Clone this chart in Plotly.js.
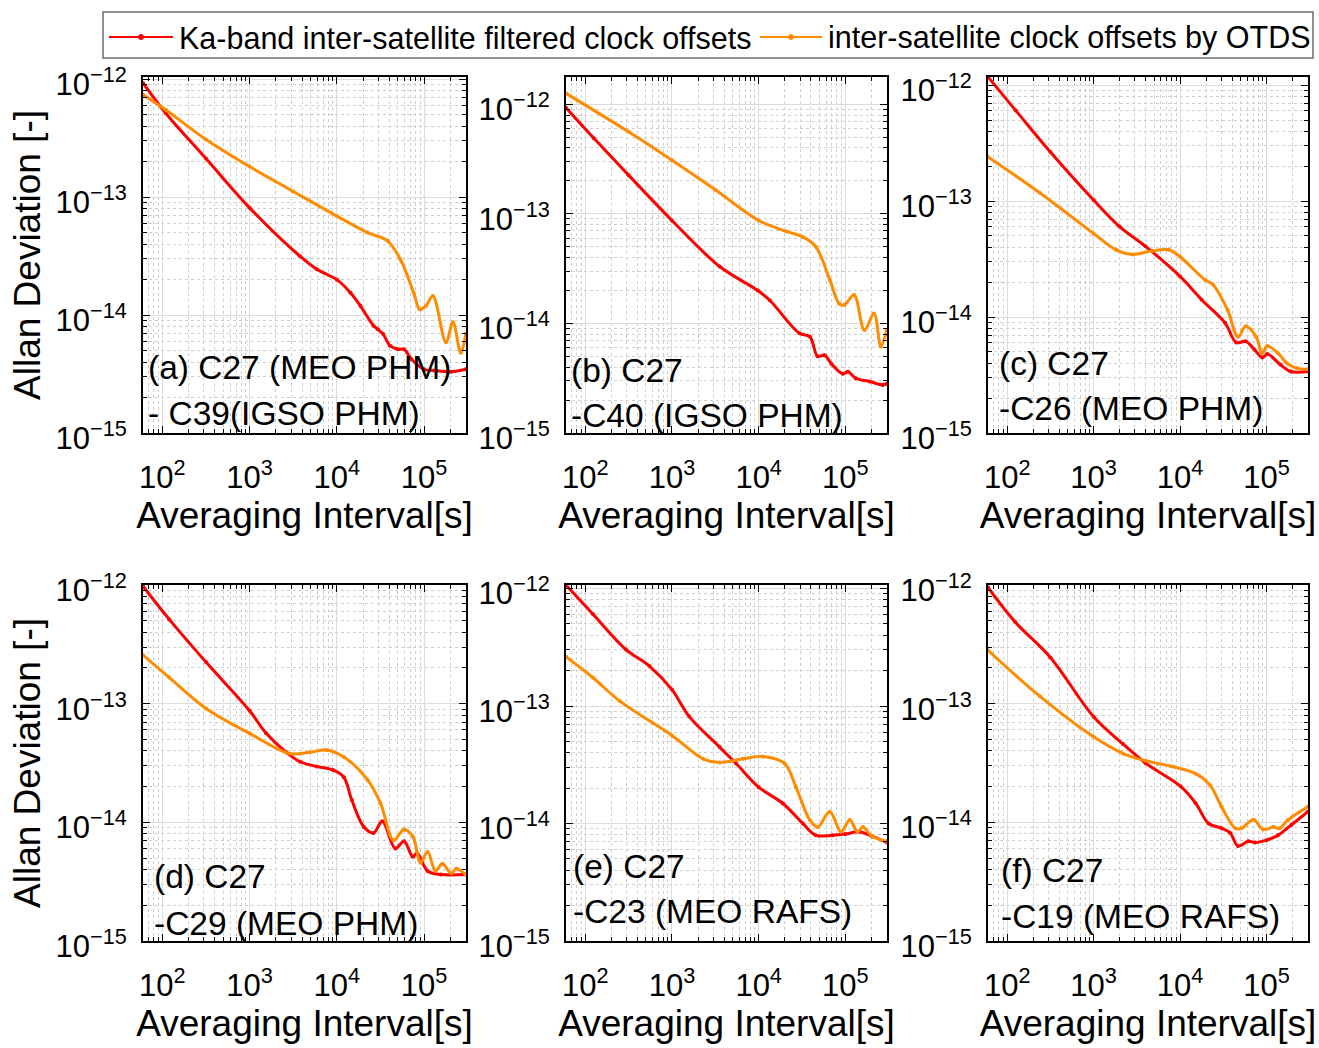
<!DOCTYPE html>
<html>
<head>
<meta charset="utf-8">
<script src="https://cdn.plot.ly/plotly-3.0.1.min.js"></script>
<style>
  html, body { margin: 0; padding: 0; background: #ffffff; }
  #chart { width: 1319px; height: 1048px; }
</style>
</head>
<body>
<div id="chart"></div>
<script>
// ---------------- DATA ----------------
const seriesNames = ["Ka-band inter-satellite filtered clock offsets", "inter-satellite clock offsets by OTDS"];
const panelLabels1 = ["(a) C27 (MEO PHM)", "(b) C27", "(c) C27", "(d) C27", "(e) C27", "(f) C27"];
const panelLabels2 = ["- C39(IGSO PHM)", "-C40 (IGSO PHM)", "-C26 (MEO PHM)", "-C29 (MEO PHM)", "-C23 (MEO RAFS)", "-C19 (MEO RAFS)"];
const xTickVals = [1e2, 1e3, 1e4, 1e5];
const xTickText = ["10<sup>2</sup>", "10<sup>3</sup>", "10<sup>4</sup>", "10<sup>5</sup>"];
const yTickVals = [1e-15, 1e-14, 1e-13, 1e-12];
const yTickText = ["10<sup>−15</sup>", "10<sup>−14</sup>", "10<sup>−13</sup>", "10<sup>−12</sup>"];

// (a) C27 - C39
const tauA_ka   = [60, 110, 316, 1000, 3776, 5890, 10000, 14300, 18600, 26300, 29500, 33900, 40700, 50100, 58900, 70800, 100000, 129000, 204000, 300000];
const adevA_ka  = [9.33e-13, 5.13e-13, 2.13e-13, 8.13e-14, 3.16e-14, 2.45e-14, 2.0e-14, 1.55e-14, 1.2e-14, 8.13e-15, 7.59e-15, 6.9e-15, 5.5e-15, 5.13e-15, 5.13e-15, 4.27e-15, 3.47e-15, 3.39e-15, 3.31e-15, 3.47e-15];
const tauA_ot   = [60, 110, 316, 1000, 3162, 10000, 22400, 38000, 53700, 75900, 89100, 105000, 126000, 178000, 214000, 263000, 300000];
const adevA_ot  = [7.41e-13, 5.5e-13, 3.09e-13, 1.82e-13, 1.12e-13, 6.92e-14, 5.01e-14, 4.27e-14, 2.95e-14, 1.55e-14, 1.12e-14, 1.2e-14, 1.45e-14, 5.89e-15, 8.71e-15, 4.79e-15, 6.92e-15];

// (b) C27 - C40
const tauB_ka   = [60, 126, 316, 1000, 3548, 9772, 13490, 29510, 38900, 47860, 57540, 69180, 93300, 107200, 131800, 190500, 269200, 300000];
const adevB_ka  = [9.33e-13, 4.9e-13, 2.26e-13, 8.71e-14, 3.31e-14, 2.0e-14, 1.62e-14, 8.13e-15, 7.59e-15, 5.01e-15, 5.13e-15, 4.27e-15, 3.47e-15, 3.63e-15, 3.16e-15, 2.95e-15, 2.75e-15, 2.82e-15];
const tauB_ot   = [60, 316, 1000, 3162, 10000, 20900, 32360, 45700, 66070, 85100, 97700, 125900, 166000, 213800, 257000, 300000];
const adevB_ot  = [1.26e-12, 5.62e-13, 3.09e-13, 1.66e-13, 8.71e-14, 6.92e-14, 6.17e-14, 5.01e-14, 2.51e-14, 1.51e-14, 1.48e-14, 1.82e-14, 8.71e-15, 1.23e-14, 6.17e-15, 8.71e-15];

// (c) C27 - C26
const tauC_ka   = [60, 126, 316, 1000, 1995, 3981, 10000, 17780, 33110, 44670, 57540, 72440, 89130, 102300, 144500, 190500, 300000];
const adevC_ka  = [1.175e-12, 6.03e-13, 2.65e-13, 1.02e-13, 6.03e-14, 4.07e-14, 2.24e-14, 1.41e-14, 8.91e-15, 6.03e-15, 6.17e-15, 5.25e-15, 4.47e-15, 4.79e-15, 3.89e-15, 3.39e-15, 3.39e-15];
const tauC_ot   = [60, 240, 1000, 1820, 2818, 4786, 7413, 10000, 19500, 23990, 35480, 46770, 57540, 75860, 89130, 102300, 134900, 173800, 223900, 300000];
const adevC_ot  = [2.4e-13, 1.175e-13, 5.25e-14, 3.8e-14, 3.47e-14, 3.72e-14, 3.8e-14, 3.31e-14, 2.09e-14, 1.91e-14, 1.15e-14, 6.76e-15, 8.32e-15, 6.76e-15, 4.9e-15, 5.62e-15, 4.9e-15, 3.98e-15, 3.63e-15, 3.55e-15];

// (d) C27 - C29
const tauD_ka   = [60, 120, 316, 1000, 1549, 2630, 3802, 5888, 9120, 12020, 14790, 20420, 26300, 33110, 46770, 58880, 74130, 83180, 109600, 154900, 300000];
const adevD_ka  = [9.77e-13, 5.13e-13, 2.24e-13, 8.71e-14, 5.62e-14, 3.89e-14, 3.24e-14, 2.95e-14, 2.75e-14, 2.4e-14, 1.55e-14, 9.12e-15, 8.13e-15, 1.02e-14, 6.03e-15, 6.92e-15, 5.13e-15, 5.5e-15, 3.89e-15, 3.63e-15, 3.63e-15];
const tauD_ot   = [60, 120, 316, 1000, 2884, 4898, 7586, 12020, 22390, 31620, 44670, 58880, 74130, 91200, 109600, 134900, 162200, 204200, 234400, 300000];
const adevD_ot  = [2.57e-13, 1.66e-13, 9.12e-14, 5.62e-14, 3.8e-14, 3.89e-14, 4.07e-14, 3.55e-14, 2.29e-14, 1.45e-14, 7.08e-15, 8.71e-15, 7.59e-15, 4.57e-15, 5.62e-15, 3.89e-15, 4.47e-15, 3.72e-15, 4.07e-15, 3.63e-15];

// (e) C27 - C23
const tauE_ka   = [60, 123, 295, 550, 1000, 1585, 3548, 5495, 10000, 19050, 32360, 45710, 70790, 100000, 144500, 204200, 300000];
const adevE_ka  = [1.07e-12, 6.03e-13, 3.02e-13, 2.19e-13, 1.38e-13, 8.13e-14, 4.47e-14, 3.24e-14, 2.04e-14, 1.48e-14, 1.0e-14, 7.94e-15, 7.94e-15, 8.13e-15, 8.51e-15, 7.76e-15, 6.92e-15];
const tauE_ot   = [60, 123, 251, 1000, 2291, 3548, 6607, 11220, 19950, 26920, 38900, 47860, 66070, 89130, 112200, 138000, 158500, 204200, 300000];
const adevE_ot  = [2.63e-13, 1.74e-13, 1.1e-13, 5.62e-14, 3.55e-14, 3.31e-14, 3.55e-14, 3.72e-14, 3.24e-14, 2.04e-14, 1.07e-14, 9.33e-15, 1.26e-14, 8.51e-15, 1.07e-14, 8.51e-15, 9.33e-15, 7.76e-15, 7.08e-15];

// (f) C27 - C19
const tauF_ka   = [60, 123, 316, 1000, 2188, 3981, 10230, 15140, 21380, 30200, 38020, 46770, 61660, 74130, 100000, 134900, 195000, 300000];
const adevF_ka  = [9.55e-13, 4.9e-13, 2.45e-13, 7.76e-14, 4.57e-14, 3.16e-14, 2.0e-14, 1.45e-14, 9.77e-15, 8.91e-15, 8.13e-15, 6.31e-15, 6.92e-15, 6.76e-15, 7.08e-15, 7.76e-15, 9.55e-15, 1.23e-14];
const tauF_ot   = [60, 240, 1000, 2188, 3981, 8128, 15140, 22390, 30200, 43650, 51290, 70790, 91200, 120200, 141300, 177800, 300000];
const adevF_ot  = [2.82e-13, 1.15e-13, 5.25e-14, 3.8e-14, 3.31e-14, 2.95e-14, 2.57e-14, 2.04e-14, 1.35e-14, 8.91e-15, 8.91e-15, 1.05e-14, 8.71e-15, 9.12e-15, 8.91e-15, 1.05e-14, 1.35e-14];

// ---------------- STYLE / LAYOUT ----------------
const RED = "#ff0000";
const ORANGE = "#ff8c00";
const FONT = "Arial, 'Liberation Sans', Helvetica, sans-serif";

const panels = [
  {ka: [tauA_ka, adevA_ka], ot: [tauA_ot, adevA_ot], yTop: -11.98},
  {ka: [tauB_ka, adevB_ka], ot: [tauB_ot, adevB_ot], yTop: -11.75},
  {ka: [tauC_ka, adevC_ka], ot: [tauC_ot, adevC_ot], yTop: -11.93},
  {ka: [tauD_ka, adevD_ka], ot: [tauD_ot, adevD_ot], yTop: -12.0},
  {ka: [tauE_ka, adevE_ka], ot: [tauE_ot, adevE_ot], yTop: -11.97},
  {ka: [tauF_ka, adevF_ka], ot: [tauF_ot, adevF_ot], yTop: -12.0}
];

// minor tick positions (2..9 in each decade)
const xMinor = [], yMinor = [];
for (let d = 1; d <= 5; d++) for (let k = 2; k <= 9; k++) xMinor.push(k * Math.pow(10, d));
for (let d = -15; d <= -12; d++) for (let k = 2; k <= 9; k++) yMinor.push(k * Math.pow(10, d));

const W = 1319, H = 1048;
const colPx = [[143, 466], [566, 887], [988, 1308]];
const rowPx = [[77, 433], [585, 941]];
const labelPos = [
  [146, 368, 413], [569, 370, 415], [997, 364, 408],
  [152, 876, 923], [571, 866, 911], [999, 870, 916]
];

const traces = [];
const layout = {
  width: W, height: H,
  margin: {l: 0, r: 0, t: 0, b: 0},
  paper_bgcolor: "#ffffff",
  plot_bgcolor: "#ffffff",
  font: {family: FONT, color: "#000000", size: 31},
  showlegend: false,
  annotations: [],
  shapes: []
};

panels.forEach((p, i) => {
  const n = i + 1;
  const xa = n === 1 ? "x" : "x" + n;
  const ya = n === 1 ? "y" : "y" + n;
  const col = i % 3, row = Math.floor(i / 3);
  [[p.ka, RED, seriesNames[0]], [p.ot, ORANGE, seriesNames[1]]].forEach(([d, c, name]) => {
    traces.push({
      x: d[0], y: d[1], xaxis: xa, yaxis: ya,
      type: "scatter", mode: "lines+markers",
      name: name, legendgroup: name,
      line: {color: c, width: 3, shape: "spline", smoothing: 1.0},
      marker: {color: c, size: 4}
    });
  });
  const common = {
    type: "log",
    showline: true, linecolor: "#000000", linewidth: 2, mirror: "allticks",
    ticks: "inside", ticklen: 7, tickwidth: 1, tickcolor: "#000000",
    showgrid: true, gridcolor: "#dcdcdc", gridwidth: 1,
    zeroline: false,
    tickfont: {family: FONT, size: 31, color: "#000000"},
    fixedrange: true
  };
  layout["xaxis" + (n === 1 ? "" : n)] = Object.assign({}, common, {
    domain: [colPx[col][0] / W, colPx[col][1] / W],
    anchor: ya,
    range: [Math.log10(60), 5.48],
    tickmode: "array", tickvals: xTickVals, ticktext: xTickText,
    minor: {tickmode: "array", tickvals: xMinor, ticks: "inside", ticklen: 4, tickcolor: "#000000", showgrid: true, gridcolor: "#cfcfcf", griddash: "dot", gridwidth: 1},
    ticklabelstandoff: 16,
    title: {text: "Averaging Interval[s]", font: {family: FONT, size: 37, color: "#000000"}, standoff: 0}
  });
  layout["yaxis" + (n === 1 ? "" : n)] = Object.assign({}, common, {
    domain: [1 - rowPx[row][1] / H, 1 - rowPx[row][0] / H],
    anchor: xa,
    range: [-15, p.yTop],
    tickmode: "array", tickvals: yTickVals, ticktext: yTickText,
    minor: {tickmode: "array", tickvals: yMinor, ticks: "inside", ticklen: 4, tickcolor: "#000000", showgrid: true, gridcolor: "#cfcfcf", griddash: "dot", gridwidth: 1},
    ticklabelstandoff: 8,
    ticklabelshift: 5,
    title: col === 0 ? {text: "Allan Deviation [-]", font: {family: FONT, size: 37, color: "#000000"}, standoff: 4} : {text: ""}
  });
  const lp = labelPos[i];
  layout.annotations.push({
    xref: "paper", yref: "paper", x: lp[0] / W, y: 1 - lp[1] / H,
    xanchor: "left", yanchor: "middle", showarrow: false,
    text: panelLabels1[i], font: {family: FONT, size: 33.5, color: "#000000"}
  });
  layout.annotations.push({
    xref: "paper", yref: "paper", x: lp[0] / W, y: 1 - lp[2] / H,
    xanchor: "left", yanchor: "middle", showarrow: false,
    text: panelLabels2[i], font: {family: FONT, size: 33.5, color: "#000000"}
  });
});

// ---- legend box drawn on the paper (line samples with a marker dot, then text) ----
const legendItems = [
  {name: seriesNames[0], color: RED, lx0: 109, lx1: 173, tx: 177},
  {name: seriesNames[1], color: ORANGE, lx0: 760, lx1: 822, tx: 826}
];
const legY = 37;
layout.shapes.push({
  type: "rect", xref: "paper", yref: "paper",
  x0: 103 / W, x1: 1313 / W, y0: 1 - 58 / H, y1: 1 - 12 / H,
  line: {color: "#6e6e6e", width: 1.5}, fillcolor: "#ffffff", layer: "above"
});
legendItems.forEach(it => {
  layout.shapes.push({
    type: "line", xref: "paper", yref: "paper",
    x0: it.lx0 / W, x1: it.lx1 / W, y0: 1 - legY / H, y1: 1 - legY / H,
    line: {color: it.color, width: 2}, layer: "above"
  });
  const cx = (it.lx0 + it.lx1) / 2;
  layout.shapes.push({
    type: "circle", xref: "paper", yref: "paper",
    xsizemode: "pixel", ysizemode: "pixel",
    xanchor: cx / W, yanchor: 1 - legY / H,
    x0: -2.5, x1: 2.5, y0: -2.5, y1: 2.5,
    line: {color: it.color, width: 1}, fillcolor: it.color, layer: "above"
  });
  layout.annotations.push({
    xref: "paper", yref: "paper", x: it.tx / W, y: 1 - (legY + 1) / H,
    xanchor: "left", yanchor: "middle", showarrow: false,
    text: it.name, font: {family: FONT, size: 30.5, color: "#000000"}
  });
});

Plotly.newPlot("chart", traces, layout, {displayModeBar: false, staticPlot: true});
</script>
</body>
</html>
